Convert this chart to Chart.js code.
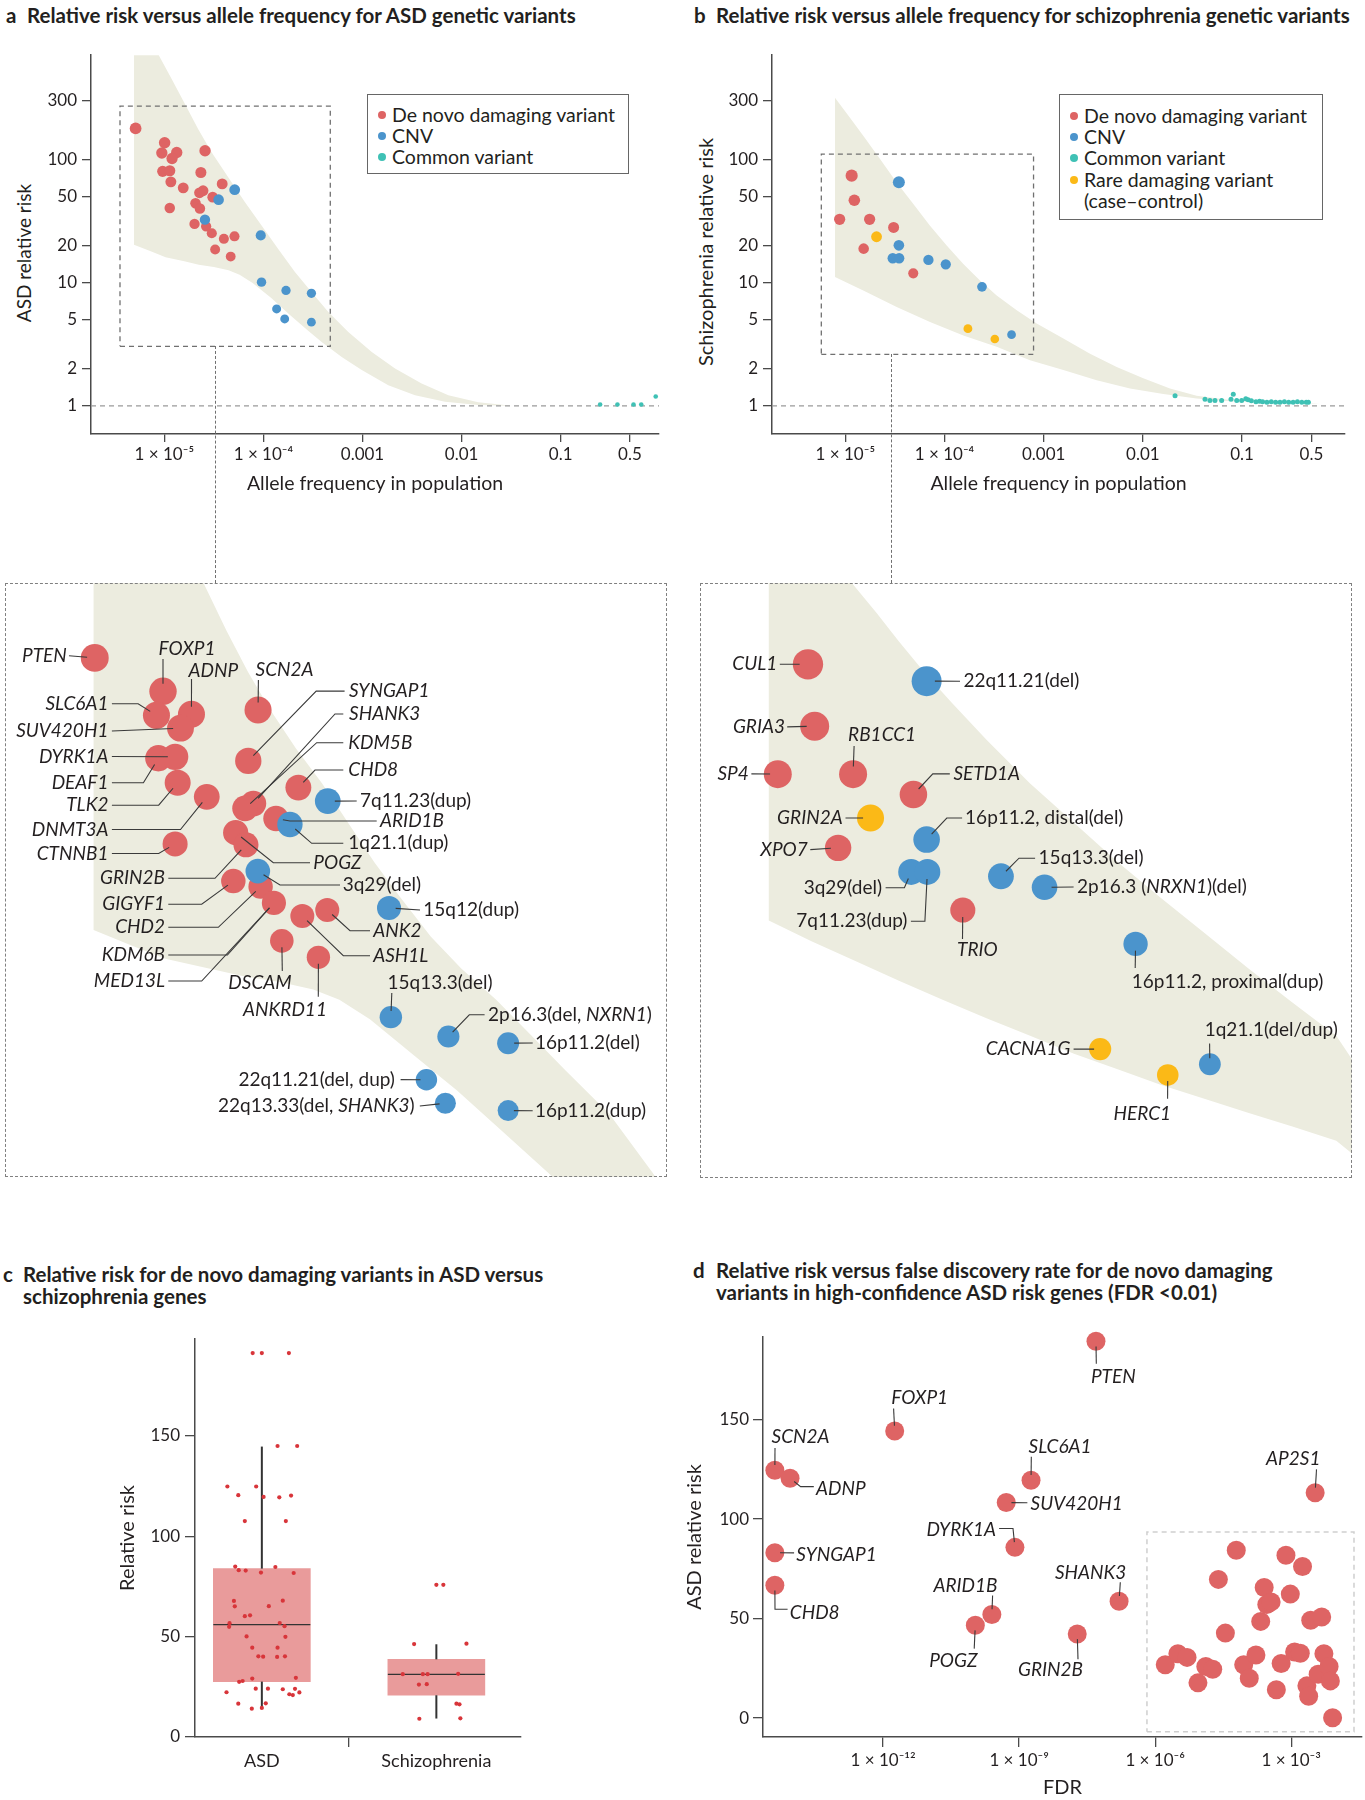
<!DOCTYPE html>
<html>
<head>
<meta charset="utf-8">
<script src="https://cdn.jsdelivr.net/npm/chart.js@4.4.1/dist/chart.umd.min.js"></script>
<style>
body { margin: 0; background: #fff; }
#page { position: relative; width: 1365px; height: 1800px; overflow: hidden; font-family: Lato, "Open Sans", sans-serif; color: #231f20; }
#page canvas { position: absolute; }
.ttl { position: absolute; font-weight: 700; font-size: 20.5px; line-height: 22px; white-space: nowrap; }
.ytl { position: absolute; white-space: nowrap; transform: translate(-50%, -50%) rotate(-90deg); line-height: 22px; }
.frame { position: absolute; border: 1.4px dashed #808080; box-sizing: border-box; pointer-events: none; }
.link { position: absolute; width: 0; border-left: 1.4px dashed #707070; }
.legend { position: absolute; border: 1.3px solid #666; box-sizing: border-box; background: #fff; font-size: 19.5px; }
.legend div { position: absolute; white-space: nowrap; line-height: 20px; }
.legend span { position: absolute; width: 8px; height: 8px; border-radius: 50%; }
</style>
</head>
<body>
<div id="page">
  <div class="ttl" style="left:6px;top:4px">a</div>
  <div class="ttl" style="left:27px;top:4px">Relative risk versus allele frequency for ASD genetic variants</div>
  <div class="ttl" style="left:694px;top:4px">b</div>
  <div class="ttl" style="left:716px;top:4px">Relative risk versus allele frequency for schizophrenia genetic variants</div>
  <div class="ttl" style="left:3px;top:1263px">c</div>
  <div class="ttl" style="left:23px;top:1263px">Relative risk for de novo damaging variants in ASD versus<br>schizophrenia genes</div>
  <div class="ttl" style="left:693px;top:1259px">d</div>
  <div class="ttl" style="left:716px;top:1259px">Relative risk versus false discovery rate for de novo damaging<br>variants in high-confidence ASD risk genes (FDR &lt;0.01)</div>
  <div class="ytl" style="left:24px;top:253px;font-size:19px">ASD relative risk</div>
  <div class="ytl" style="left:705px;top:252px;font-size:20px">Schizophrenia relative risk</div>
</div>
<script>
// colori
const RED = '#de6464', BLUE = '#4b94cc', TEAL = '#3fc1b5', GOLD = '#fbb917', BAND = '#ececdf';
const INK = '#231f20', AXIS = '#4a4a4a', BOXFILL = '#e99b9b', JIT = '#d8353a';

// ---- pannello a: ASD ----
const asdDnNames = ['PTEN','FOXP1','SLC6A1','ADNP','SUV420H1','SCN2A','DEAF1','DYRK1A','SYNGAP1','TLK2','CHD8','DNMT3A','SHANK3','KDM5B','ARID1B','POGZ','GRIN2B','CTNNB1','GIGYF1','CHD2','MED13L','ASH1L','ANK2','DSCAM','ANKRD11'];
const asdDnFreq = [5.13e-6,1.007e-5,9.44e-6,1.334e-5,1.197e-5,2.576e-5,9.62e-6,1.135e-5,2.339e-5,1.164e-5,3.837e-5,1.552e-5,2.46e-5,2.265e-5,3.076e-5,2.065e-5,2.286e-5,1.135e-5,2.018e-5,2.642e-5,3.013e-5,3.99e-5,5.105e-5,3.258e-5,4.677e-5];
const asdDnRR = [179,137,113,114,102,118,80.2,81.1,78.5,65.9,63.4,58.9,55.8,53.7,49.5,44.2,40.1,40.4,30.0,28.7,25.2,22.7,23.8,18.6,16.3];
const asdCnvNames = ['7q11.23(dup)','1q21.1(dup)','3q29(del)','15q12(dup)','15q13.3(del)','2p16.3(del, NXRN1)','16p11.2(del)','22q11.21(del, dup)','22q13.33(del, SHANK3)','16p11.2(dup)'];
const asdCnvFreq = [5.13e-5,3.53e-5,2.57e-5,9.4e-5,9.57e-5,1.69e-4,3.05e-4,1.36e-4,1.64e-4,3.05e-4];
const asdCnvRR = [56.9,47.2,32.5,24.2,10.1,8.65,8.2,6.12,5.07,4.78];
const asdCommonFreq = [0.25,0.374,0.543,0.65,0.91];
const asdCommonRR = [1.025,1.025,1.025,1.025,1.19];

// ---- pannello b: schizofrenia ----
const sczDnNames = ['CUL1','GRIA3','SP4','RB1CC1','SETD1A','XPO7','TRIO'];
const sczDnFreq = [1.159e-5,1.233e-5,8.77e-6,1.758e-5,3.069e-5,1.531e-5,4.842e-5];
const sczDnRR = [74.0,46.7,32.7,32.7,28.1,18.9,11.9];
const sczCnvNames = ['22q11.21(del)','16p11.2, distal(del)','3q29(del)','7q11.23(dup)','15q13.3(del)','2p16.3 (NRXN1)(del)','16p11.2, proximal(dup)','1q21.1(del/dup)'];
const sczCnvFreq = [3.467e-5,3.467e-5,3.006e-5,3.491e-5,6.887e-5,1.03e-4,2.388e-4,4.742e-4];
const sczCnvRR = [65.3,20.1,15.8,15.8,15.3,14.1,9.25,3.78];
const sczRareNames = ['GRIN2A','CACNA1G','HERC1'];
const sczRareFreq = [2.065e-5,1.722e-4,3.214e-4];
const sczRareRR = [23.6,4.23,3.49];
const sczCommonFreq = [0.0211,0.0423,0.0474,0.0533,0.0622,0.0773,0.0815,0.0883,0.099,0.109,0.115,0.124,0.138,0.150,0.161,0.178,0.197,0.218,0.241,0.267,0.295,0.327,0.361,0.400,0.443,0.466];
const sczCommonRR = [1.205,1.13,1.105,1.105,1.105,1.13,1.24,1.105,1.105,1.14,1.12,1.10,1.08,1.09,1.08,1.07,1.08,1.07,1.07,1.08,1.07,1.07,1.08,1.07,1.07,1.07];

// fasce (bordo superiore / inferiore)
const bandAUpF = [8.71e-6,1.19e-5,1.62e-5,2.20e-5,3.01e-5,4.43e-5,6.52e-5,9.62e-5,1.41e-4,2.08e-4,3.07e-4,4.52e-4,7.19e-4,1.24e-3,2.13e-3,3.95e-3,7.35e-3,1.47e-2,3.21e-2];
const bandAUpRR = [713,448,281,176,114,71.4,44.9,29.0,18.8,12.2,8.37,5.77,3.97,2.74,2.01,1.52,1.22,1.067,1.0];
const bandALoF = [4.94e-6,7.29e-6,1.03e-5,1.59e-5,2.23e-5,3.16e-5,4.45e-5,5.75e-5,7.78e-5,1.20e-4,1.84e-4,2.83e-4,3.87e-4,6.17e-4,9.82e-4,1.82e-3,3.39e-3,6.81e-3,1.47e-2,3.21e-2];
const bandALoRR = [20.3,18.0,16.1,14.9,14.0,13.4,12.6,11.6,9.93,7.50,5.50,4.07,3.30,2.49,1.95,1.47,1.22,1.076,1.014,1.0];
const bandBUpF = [7.87e-6,1.114e-5,1.517e-5,2.239e-5,3.296e-5,4.853e-5,7.145e-5,1.052e-4,1.549e-4,2.28e-4,3.357e-4,5.346e-4,8.49e-4,1.578e-3,2.931e-3,5.445e-3,1.009e-2,1.875e-2,3.483e-2,7.551e-2,0.304,0.61];
const bandBUpRR = [318,219,156,101,65.2,43.6,29.0,20.0,14.2,10.4,7.87,5.96,4.65,3.52,2.65,2.07,1.67,1.38,1.205,1.112,1.081,1.042];
const bandBLoF = [7.87e-6,1.517e-5,3.296e-5,7.145e-5,1.549e-4,3.357e-4,7.278e-4,1.578e-3,3.42e-3,7.413e-3,1.607e-2,3.483e-2,7.551e-2,0.304,0.61];
const bandBLoRR = [11.1,8.65,6.34,4.79,3.73,3.01,2.34,1.95,1.61,1.38,1.245,1.148,1.091,1.052,1.042];
// fasce come disegnate nei riquadri ingranditi
const insetAUpF = [1.318e-5,1.517e-5,1.884e-5,2.333e-5,2.891e-5,3.741e-5,4.853e-5,6.281e-5,8.128e-5,1.052e-4,1.422e-4,1.919e-4,2.71e-4,3.828e-4,5.395e-4,8.279e-4,1.274e-3,1.959e-3];
const insetAUpRR = [417,321,223,160,119,86.9,65.5,47.8,34.9,26.3,19.2,14.9,11.6,8.73,6.58,4.66,2.90,1.70];
const insetALoF = [5.07e-6,7.29e-6,1.03e-5,1.585e-5,2.234e-5,3.155e-5,4.446e-5,5.754e-5,7.78e-5,1.197e-4,1.841e-4,2.831e-4,4.742e-4,8.279e-4];
const insetALoRR = [20.3,18.0,16.1,14.9,14.0,13.4,12.6,11.6,9.93,7.46,5.62,4.10,2.81,1.87];
const insetBUpF = [1.466e-5,1.758e-5,2.193e-5,2.685e-5,3.42e-5,4.365e-5,6.026e-5,9.016e-5,1.352e-4,2.023e-4,3.027e-4,4.539e-4,6.792e-4,1.016e-3,1.524e-3,1.901e-3,2.239e-3];
const insetBUpRR = [173,134,108,87.7,69.3,55.7,42.2,30.5,22.8,17.0,13.0,10.0,7.69,5.98,4.67,3.58,2.82];
const insetBLoF = [8.07e-6,1.197e-5,1.795e-5,2.685e-5,4.018e-5,6.026e-5,9.016e-5,1.352e-4,2.023e-4,3.027e-4,4.539e-4,6.792e-4,1.016e-3,1.524e-3,1.901e-3,2.239e-3];
const insetBLoRR = [11.0,9.44,8.15,7.03,6.11,5.32,4.67,4.09,3.64,3.24,2.92,2.63,2.38,2.14,1.85,1.66];

// assi
const freqTicks = [1e-5,1e-4,1e-3,1e-2,0.1,0.5];
const freqTickLabels = ['1 \u00d7 10\u207b\u2075','1 \u00d7 10\u207b\u2074','0.001','0.01','0.1','0.5'];
const rrTicks = [1,2,5,10,20,50,100,300];
const zoomBoxAF = [3.57e-6,4.73e-4], zoomBoxARR = [3.04,272];
const zoomBoxBF = [5.73e-6,7.9e-4], zoomBoxBRR = [2.62,110.6];
const linkFreqA = 3.33e-5, linkFreqB = 2.94e-5;

// ---- pannello c ----
const boxCats = ['ASD','Schizophrenia'];
const boxQ1 = [27.6,20.8], boxQ3 = [83.9,38.7], boxMed = [56.0,31.2], boxLow = [14.2,9.2], boxHigh = [144.7,46.2];
const asdJitter = [-0.0525,0,0.155,0.09,0.2025,-0.1975,-0.0325,-0.135,0.01,0.1,0.1675,-0.0975,0.1375,-0.1525,-0.1325,-0.0925,0.0775,-0.005,0.1825,-0.16,-0.155,0.12,0.04,-0.0975,-0.0675,-0.185,-0.1875,0.1025,0.13,-0.0875,0.135,-0.055,0.09,-0.02,0.0075,0.0875,0.1325,0.195,-0.055,-0.13,-0.11,-0.035,0.035,0.12,0.19,-0.2025,0.215,0.1575,0.1775,-0.135,0.0225,-0.0575,0];
const asdRRc = [191.3,191.3,191.3,145,145,124.8,124.8,120.5,119.6,119.4,120.3,107.6,107.6,84.9,83.1,82.9,84.7,81.9,81.7,67.8,65.1,67.9,65.2,60.2,60.6,56.7,54.9,56.8,55.2,50.1,49.9,44.5,44.5,40.2,40.0,39.9,40.2,29.5,29.1,27.5,27.9,24.1,24.1,23.8,24.0,22.3,22.2,21.3,20.9,16.6,16.8,14.1,14.5];
const sczJitter = [0,0.04,-0.1275,0.1725,-0.1925,-0.0775,-0.05,0.125,-0.1,-0.055,0.115,0.1325,-0.0975,0.1375];
const sczRRc = [75.8,75.8,46.3,46.5,31.3,31.3,31.3,31.5,26.1,26.3,16.6,16.3,9.1,9.3];
const linTicksC = [0,50,100,150];

// ---- pannello d ----
const fdrNames = ['PTEN','FOXP1','SCN2A','ADNP','SLC6A1','SUV420H1','DYRK1A','SYNGAP1','CHD8','SHANK3','ARID1B','POGZ','GRIN2B','AP2S1'];
const fdrVal = [4.95e-8,1.80e-12,4.09e-15,8.85e-15,1.83e-9,5.19e-10,8.07e-10,4.09e-15,4.09e-15,1.60e-7,2.50e-10,1.08e-10,1.91e-8,3.38e-3,
  1.67e-6,3.17e-6,5.05e-6,8.79e-6,1.31e-5,1.86e-5,2.48e-5,3.54e-5,6.15e-5,8.97e-5,1.19e-4,1.67e-4,2.13e-4,2.54e-4,2.90e-4,3.61e-4,4.71e-4,6.01e-4,7.67e-4,9.57e-4,1.19e-3,1.59e-3,1.78e-3,2.22e-3,2.43e-3,2.70e-3,3.94e-3,4.71e-3,5.27e-3,6.86e-3,7.33e-3,8.20e-3];
const fdrRR = [189.4,144.3,124.5,120.5,119.5,108.3,85.8,83.1,66.8,58.7,52.1,46.7,42.3,113.2,
  26.8,32.3,30.5,17.7,25.9,24.5,69.7,42.7,84.3,26.8,20.0,31.7,48.6,65.6,57.1,58.4,14.2,27.4,81.8,62.3,33.2,32.6,76.2,16.2,11.0,49.2,22.0,50.8,32.3,25.9,18.7,0.2];
const fdrTicks = [1e-12,1e-9,1e-6,1e-3];
const fdrTickLabels = ['1 \u00d7 10\u207b\u00b9\u00b2','1 \u00d7 10\u207b\u2079','1 \u00d7 10\u207b\u2076','1 \u00d7 10\u207b\u00b3'];
const fdrBoxF = [6.59e-7,2.43e-2], fdrBoxRR = [-6.8,93.5];

// etichette con linee guida (coordinate di pagina)
const labelsA = [
  {n:'PTEN', x:66.8, y:655.7, a:'right', p:[[69,655.7]]},
  {n:'FOXP1', x:187, y:648.7, a:'center', p:[[163,659]]},
  {n:'ADNP', x:213.4, y:670.7, a:'center', p:[[191.5,679]]},
  {n:'SCN2A', x:284.6, y:669.5, a:'center', p:[[258.4,680]]},
  {n:'SLC6A1', x:108.4, y:703.5, a:'right', p:[[111.9,703.7],[138.1,703.7]]},
  {n:'SUV420H1', x:108.4, y:731, a:'right', p:[[111.9,731]]},
  {n:'DYRK1A', x:108.4, y:756.5, a:'right', p:[[111.9,756.5]]},
  {n:'DEAF1', x:108.4, y:782.8, a:'right', p:[[111.9,782.8],[143.4,782.8]]},
  {n:'TLK2', x:108.4, y:805.2, a:'right', p:[[111.9,805.2],[158.7,805.2]]},
  {n:'DNMT3A', x:108.4, y:829.5, a:'right', p:[[111.9,829.5],[180.5,829.5]]},
  {n:'CTNNB1', x:108.4, y:853.5, a:'right', p:[[111.9,853.5],[158.7,853.5]]},
  {n:'GRIN2B', x:165, y:878.3, a:'right', p:[[168.3,878.3],[215,878.3]]},
  {n:'GIGYF1', x:165, y:904.3, a:'right', p:[[168.3,904.3],[201.7,904.3]]},
  {n:'CHD2', x:165, y:927.3, a:'right', p:[[168.3,927.3],[218.3,927.3]]},
  {n:'MED13L', t:'*KDM6B*', x:165, y:955, a:'right', p:[[168.3,955],[227.4,955]]},
  {n:'MED13L', x:165, y:981, a:'right', p:[[168.3,981],[201.7,981]]},
  {n:'DSCAM', x:260, y:983.3, a:'center', p:[[282.3,971]]},
  {n:'ANKRD11', x:285, y:1010, a:'center', p:[[318.3,996.7]]},
  {n:'SYNGAP1', x:349, y:691.1, a:'left', p:[[344.6,691.1],[316.2,691.1]]},
  {n:'SHANK3', x:349, y:714, a:'left', p:[[343.3,714],[335,714]]},
  {n:'KDM5B', x:348.3, y:742.7, a:'left', p:[[343.3,742.7],[316.7,742.7]]},
  {n:'CHD8', x:348.3, y:770, a:'left', p:[[343.3,770],[315,770]]},
  {n:'7q11.23(dup)', t:'7q11.23(dup)', x:360, y:801, a:'left', p:[[356.7,801]]},
  {n:'ARID1B', x:380, y:821, a:'left', p:[[376.7,821],[290,821]]},
  {n:'1q21.1(dup)', t:'1q21.1(dup)', x:348.3, y:843.3, a:'left', p:[[343.3,843.3],[311.7,843.3]]},
  {n:'POGZ', x:313.3, y:862.7, a:'left', p:[[310,862.7],[273.3,862.7]]},
  {n:'3q29(del)', t:'3q29(del)', x:342.7, y:885, a:'left', p:[[340,885],[280,885]]},
  {n:'15q12(dup)', t:'15q12(dup)', x:423.3, y:910, a:'left', p:[[420,910]]},
  {n:'ANK2', x:373.3, y:930.7, a:'left', p:[[370,930.7],[350,930.7]]},
  {n:'ASH1L', x:373.3, y:955.7, a:'left', p:[[370,955.7],[343.3,955.7]]},
  {n:'15q13.3(del)', t:'15q13.3(del)', x:387.5, y:983.3, a:'left', p:[[391.8,993]]},
  {n:'2p16.3(del, NXRN1)', t:'2p16.3(del, *NXRN1*)', x:488, y:1014.8, a:'left', p:[[484.6,1014.8],[469.3,1014.8]]},
  {n:'16p11.2(del)', t:'16p11.2(del)', x:534.9, y:1043.1, a:'left', p:[[532.7,1043]]},
  {n:'22q11.21(del, dup)', t:'22q11.21(del, dup)', x:394.9, y:1079.6, a:'right', p:[[400.6,1079.6]]},
  {n:'22q13.33(del, SHANK3)', t:'22q13.33(del, *SHANK3*)', x:414.6, y:1106, a:'right', p:[[419.8,1106]]},
  {n:'16p11.2(dup)', t:'16p11.2(dup)', x:534.9, y:1110.7, a:'left', p:[[532.7,1110.7]]}
];
const labelsB = [
  {n:'CUL1', x:777.2, y:664.2, a:'right', p:[[779.8,664.2]]},
  {n:'GRIA3', x:785, y:726.9, a:'right', p:[[787.2,726.9]]},
  {n:'SP4', x:748.8, y:773.9, a:'right', p:[[751.4,773.9]]},
  {n:'RB1CC1', x:882.1, y:735.2, a:'center', p:[[854.1,745.9]]},
  {n:'SETD1A', x:953.4, y:773.9, a:'left', p:[[949.8,773.9],[932.8,773.9]]},
  {n:'GRIN2A', x:842.7, y:818, a:'right', p:[[845.5,818]]},
  {n:'XPO7', x:807.8, y:849.6, a:'right', p:[[810.3,849.6]]},
  {n:'TRIO', x:977.4, y:949.7, a:'center', p:[[962.5,939]]},
  {n:'22q11.21(del)', t:'22q11.21(del)', x:963.4, y:681.2, a:'left', p:[[960,681.2]]},
  {n:'16p11.2, distal(del)', t:'16p11.2, distal(del)', x:965.1, y:818, a:'left', p:[[962.1,818],[946.8,818]]},
  {n:'15q13.3(del)', t:'15q13.3(del)', x:1038.6, y:858.2, a:'left', p:[[1035.1,858.2],[1019,858.2]]},
  {n:'2p16.3 (NRXN1)(del)', t:'2p16.3 (*NRXN1*)(del)', x:1077.1, y:887, a:'left', p:[[1073.6,887]]},
  {n:'3q29(del)', t:'3q29(del)', x:882.1, y:887.8, a:'right', p:[[885.6,887.8],[904.4,887.8]]},
  {n:'7q11.23(dup)', t:'7q11.23(dup)', x:907.4, y:921.3, a:'right', p:[[910.9,921.3],[924.9,921.3]]},
  {n:'16p11.2, proximal(dup)', t:'16p11.2, proximal(dup)', x:1131.8, y:982, a:'left', p:[[1135.2,968]]},
  {n:'CACNA1G', x:1070.5, y:1049.1, a:'right', p:[[1073.6,1049.1]]},
  {n:'1q21.1(del/dup)', t:'1q21.1(del/dup)', x:1204.7, y:1029.8, a:'left', p:[[1209.6,1043.6]]},
  {n:'HERC1', x:1142.3, y:1113.4, a:'center', p:[[1167.6,1098.8]]}
];
const labelsD = [
  {n:'PTEN', x:1113.3, y:1377.3, a:'center', p:[[1096.3,1363.7]]},
  {n:'FOXP1', x:919.7, y:1397.7, a:'center', p:[[893.6,1408.5]]},
  {n:'SCN2A', x:800.6, y:1437.1, a:'center', p:[[775,1447.9]]},
  {n:'ADNP', x:816, y:1489.1, a:'left', p:[[813.8,1486.6],[800.6,1486.6]]},
  {n:'SLC6A1', x:1060.1, y:1446.8, a:'center', p:[[1031.3,1456.8]]},
  {n:'SUV420H1', x:1030.5, y:1503.4, a:'left', p:[[1027.4,1502.7]]},
  {n:'DYRK1A', x:996, y:1530.3, a:'right', p:[[999.1,1528.5],[1013,1528.5]]},
  {n:'SYNGAP1', x:796.3, y:1554.7, a:'left', p:[[794.1,1552.9]]},
  {n:'CHD8', x:789.8, y:1612.8, a:'left', p:[[787.6,1609.2],[775,1609.2]]},
  {n:'SHANK3', x:1090.6, y:1572.6, a:'center', p:[[1120.3,1582.3]]},
  {n:'ARID1B', x:965.5, y:1585.9, a:'center', p:[[992.6,1595.5]]},
  {n:'POGZ', x:953.3, y:1661.1, a:'center', p:[[974.2,1648.6]]},
  {n:'GRIN2B', x:1050.5, y:1670.1, a:'center', p:[[1078,1659.3]]},
  {n:'AP2S1', x:1293.3, y:1458.6, a:'center', p:[[1316.5,1469.4]]}
];

Chart.defaults.font.family = 'Lato, "Open Sans", sans-serif';
Chart.defaults.color = INK;
Chart.defaults.animation = false;
Chart.defaults.events = [];
Chart.defaults.plugins.legend.display = false;
Chart.defaults.plugins.tooltip.enabled = false;

const page = document.getElementById('page');
function mkCanvas(left, top, w, h) {
  const c = document.createElement('canvas');
  c.width = w; c.height = h;
  c.style.left = left + 'px'; c.style.top = top + 'px';
  c.style.width = w + 'px'; c.style.height = h + 'px';
  page.appendChild(c);
  return c;
}
function mkDiv(cls, css) {
  const d = document.createElement('div');
  d.className = cls;
  Object.assign(d.style, css);
  page.appendChild(d);
  return d;
}

const pts = (xs, ys) => xs.map((x, i) => ({x: x, y: ys[i]}));
function dots(names, xs, ys, color, radius, order) {
  return {names: names, data: pts(xs, ys), backgroundColor: color, borderWidth: 0,
    pointRadius: radius, order: order, showLine: false, clip: false};
}
function band(upF, upRR, loF, loRR) {
  const poly = [{x: loF[0], y: upRR[0]}].concat(pts(upF, upRR), pts(loF, loRR).reverse());
  return {data: poly, showLine: true, fill: 'shape', backgroundColor: BAND,
    borderColor: 'rgba(0,0,0,0)', borderWidth: 1, pointRadius: 0, order: 10};
}
function dashed(xs, ys, color, order) {
  return {data: pts(xs, ys), showLine: true, borderColor: color, borderWidth: 1.3,
    borderDash: [5, 4], pointRadius: 0, fill: false, order: order};
}
const rect = (f, r) => [[f[0], f[1], f[1], f[0], f[0]], [r[0], r[0], r[1], r[1], r[0]]];
const sizeA = k => c => c.raw ? k * (9 + 2.2 * Math.log10(c.raw.y)) : 0;
const sizeB = k => c => c.raw ? k * (9 + 3.3 * Math.log10(c.raw.y)) : 0;

// testo con parti in corsivo tra asterischi
function drawRich(ctx, text, x, y, align, size) {
  const parts = text.split('*');
  const fam = Chart.defaults.font.family;
  const fonts = parts.map((s, i) => (i % 2 ? 'italic ' : '') + size + 'px ' + fam);
  let w = 0;
  const ws = parts.map((s, i) => { ctx.font = fonts[i]; const m = ctx.measureText(s).width; w += m; return m; });
  let cx = align === 'right' ? x - w : align === 'center' ? x - w / 2 : x;
  ctx.textBaseline = 'middle'; ctx.textAlign = 'left'; ctx.fillStyle = INK;
  parts.forEach((s, i) => { ctx.font = fonts[i]; ctx.fillText(s, cx, y); cx += ws[i]; });
}

const leaderPlugin = {
  id: 'leaders',
  afterDatasetsDraw(chart, args, o) {
    if (!o || !o.items) return;
    const ctx = chart.ctx;
    const lookup = {};
    chart.data.datasets.forEach((ds, i) => {
      if (!ds.names) return;
      const meta = chart.getDatasetMeta(i);
      ds.names.forEach((n, j) => { if (n) lookup[n] = meta.data[j]; });
    });
    ctx.save();
    ctx.strokeStyle = '#3a3a3a'; ctx.lineWidth = 1.1;
    o.items.forEach(it => {
      const line = it.p.map(q => [q[0] - o.ox, q[1] - o.oy]);
      const el = lookup[it.n];
      if (el) {
        const last = line[line.length - 1];
        const dx = el.x - last[0], dy = el.y - last[1], d = Math.hypot(dx, dy);
        const r = el.options.radius * 0.55;
        const k = d > r ? (d - r) / d : 0;
        line.push([last[0] + dx * k, last[1] + dy * k]);
      }
      ctx.beginPath();
      line.forEach((q, i) => i ? ctx.lineTo(q[0], q[1]) : ctx.moveTo(q[0], q[1]));
      ctx.stroke();
      drawRich(ctx, it.t || ('*' + it.n + '*'), it.x - o.ox, it.y - o.oy, it.a, o.size);
    });
    ctx.restore();
  }
};

function axisStyle(len) {
  return {
    grid: {drawOnChartArea: false, drawTicks: true, tickLength: len, color: AXIS, lineWidth: 1.3},
    border: {display: true, color: AXIS, width: 1.5}
  };
}

// grafico principale allele frequency / relative risk
function mainChart(left, cw, areaL, areaR, xMin, xMax, datasets) {
  const top = 40, h = 470, areaT = 54, areaB = 434;
  const c = mkCanvas(left, top, cw, h);
  return new Chart(c, {
    type: 'scatter',
    data: {datasets: datasets},
    options: {
      responsive: false,
      layout: {autoPadding: false, padding: {top: areaT - top, right: left + cw - areaR, left: 0, bottom: 0}},
      scales: {
        x: Object.assign({
          type: 'logarithmic', min: xMin, max: xMax,
          afterBuildTicks: s => { s.ticks = freqTicks.map(v => ({value: v})); },
          afterFit: s => { s.height = top + h - areaB; },
          ticks: {callback: (v, i) => freqTickLabels[i], font: {size: 17}, color: INK, padding: 2, maxRotation: 0, autoSkip: false},
          title: {display: true, text: 'Allele frequency in population', font: {size: 19.5}, color: INK, padding: {bottom: 15}}
        }, axisStyle(8)),
        y: Object.assign({
          type: 'logarithmic', min: 0.59, max: 704,
          afterBuildTicks: s => { s.ticks = rrTicks.map(v => ({value: v})); },
          afterFit: s => { s.width = areaL - left; },
          ticks: {callback: (v, i) => String(rrTicks[i]), font: {size: 17}, color: INK, padding: 5, autoSkip: false}
        }, axisStyle(9))
      }
    }
  });
}

// ---- a ----
const boxA = rect(zoomBoxAF, zoomBoxARR);
const chartA = mainChart(0, 682, 91, 659, 1.82e-6, 0.982, [
  dots(asdCnvNames, asdCnvFreq, asdCnvRR, BLUE, sizeA(0.42), 1),
  dots(null, asdCommonFreq, asdCommonRR, TEAL, 2.3, 1),
  dots(asdDnNames, asdDnFreq, asdDnRR, RED, sizeA(0.42), 2),
  dashed(boxA[0], boxA[1], '#707070', 8),
  dashed([1.82e-6, 0.982], [1, 1], '#9a9a9a', 9),
  band(bandAUpF, bandAUpRR, bandALoF, bandALoRR)
]);

// ---- b ----
const boxB = rect(zoomBoxBF, zoomBoxBRR);
const chartB = mainChart(682, 683, 772, 1345, 1.824e-6, 1.09, [
  dots(sczRareNames, sczRareFreq, sczRareRR, GOLD, sizeB(0.4), 1),
  dots(sczCnvNames, sczCnvFreq, sczCnvRR, BLUE, sizeB(0.4), 1),
  dots(null, sczCommonFreq, sczCommonRR, TEAL, 2.5, 1),
  dots(sczDnNames, sczDnFreq, sczDnRR, RED, sizeB(0.4), 2),
  dashed(boxB[0], boxB[1], '#707070', 8),
  dashed([1.824e-6, 1.09], [1, 1], '#9a9a9a', 9),
  band(bandBUpF, bandBUpRR, bandBLoF, bandBLoRR)
]);

// legende
function legend(left, top, w, h, rows) {
  const box = mkDiv('legend', {left: left + 'px', top: top + 'px', width: w + 'px', height: h + 'px'});
  rows.forEach(r => {
    const t = document.createElement('div');
    t.textContent = r[0];
    t.style.left = '24px'; t.style.top = (r[2] - 10) + 'px';
    box.appendChild(t);
    if (r[1]) {
      const s = document.createElement('span');
      s.style.background = r[1]; s.style.left = '10px'; s.style.top = (r[2] - 4) + 'px';
      box.appendChild(s);
    }
  });
}
legend(367, 94, 262, 80, [['De novo damaging variant', RED, 20], ['CNV', BLUE, 41], ['Common variant', TEAL, 62]]);
legend(1059, 94, 264, 126, [['De novo damaging variant', RED, 21], ['CNV', BLUE, 42], ['Common variant', TEAL, 63],
  ['Rare damaging variant', GOLD, 85], ['(case\u2013control)', null, 106]]);

// collegamenti tratteggiati verso i riquadri
function link(chart, left, f, rr) {
  const x = left + chart.scales.x.getPixelForValue(f);
  const y = 40 + chart.scales.y.getPixelForValue(rr);
  mkDiv('link', {left: (x - 0.7) + 'px', top: y + 'px', height: (583 - y) + 'px'});
}
link(chartA, 0, linkFreqA, zoomBoxARR[0]);
link(chartB, 682, linkFreqB, zoomBoxBRR[0]);

// riquadri ingranditi
function insetChart(left, top, w, h, fr, rr, datasets, items) {
  const c = mkCanvas(left, top, w, h);
  mkDiv('frame', {left: left + 'px', top: top + 'px', width: w + 'px', height: h + 'px'});
  return new Chart(c, {
    type: 'scatter',
    data: {datasets: datasets},
    options: {
      responsive: false,
      layout: {autoPadding: false, padding: 0},
      scales: {
        x: {type: 'logarithmic', display: false, min: fr[0], max: fr[1]},
        y: {type: 'logarithmic', display: false, min: rr[0], max: rr[1]}
      },
      plugins: {leaders: {items: items, ox: left, oy: top, size: 19}}
    },
    plugins: [leaderPlugin]
  });
}
insetChart(5, 583, 662, 594, [2.113e-6, 1.466e-3], [2.81, 326], [
  dots(asdCnvNames, asdCnvFreq, asdCnvRR, BLUE, sizeA(1), 1),
  dots(asdDnNames, asdDnFreq, asdDnRR, RED, sizeA(1), 2),
  band(insetAUpF, insetAUpRR, insetALoF, insetALoRR)
], labelsA);
insetChart(700, 583, 652, 595, [4.276e-6, 1.762e-3], [1.622, 135.5], [
  dots(sczRareNames, sczRareFreq, sczRareRR, GOLD, sizeB(1), 1),
  dots(sczCnvNames, sczCnvFreq, sczCnvRR, BLUE, sizeB(1), 1),
  dots(sczDnNames, sczDnFreq, sczDnRR, RED, sizeB(1), 2),
  band(insetBUpF, insetBUpRR, insetBLoF, insetBLoRR)
], labelsB);

// ---- c: box plot ----
const boxPlugin = {
  id: 'boxes',
  afterDatasetDraw(chart, args) {
    if (args.meta.type !== 'bar') return;
    const y = chart.scales.y, ctx = chart.ctx;
    const seg = (x0, y0, x1, y1) => { ctx.beginPath(); ctx.moveTo(x0, y0); ctx.lineTo(x1, y1); ctx.stroke(); };
    ctx.save(); ctx.strokeStyle = '#333';
    args.meta.data.forEach((bar, i) => {
      const half = bar.width / 2;
      ctx.lineWidth = 1.2;
      seg(bar.x - half, y.getPixelForValue(boxMed[i]), bar.x + half, y.getPixelForValue(boxMed[i]));
      ctx.lineWidth = 2;
      seg(bar.x, y.getPixelForValue(boxHigh[i]), bar.x, y.getPixelForValue(boxQ3[i]));
      seg(bar.x, y.getPixelForValue(boxQ1[i]), bar.x, y.getPixelForValue(boxLow[i]));
    });
    ctx.restore();
  }
};
const jitterPts = asdJitter.map((j, i) => ({x: j, y: asdRRc[i]}))
  .concat(sczJitter.map((j, i) => ({x: 1 + j, y: sczRRc[i]})));
new Chart(mkCanvas(90, 1320, 460, 480), {
  type: 'bar',
  data: {datasets: [
    {type: 'scatter', data: jitterPts, backgroundColor: JIT, borderWidth: 0, pointRadius: 2.1, order: 0, clip: false},
    {type: 'bar', data: boxCats.map((c, i) => ({x: i, y: [boxQ1[i], boxQ3[i]]})), backgroundColor: BOXFILL,
      barThickness: 97, borderWidth: 0, order: 1}
  ]},
  options: {
    responsive: false,
    layout: {autoPadding: false, padding: {top: 19, right: 29, left: 0, bottom: 0}},
    scales: {
      x: Object.assign({
        type: 'linear', min: -0.383, max: 1.485, offset: false,
        afterBuildTicks: s => { s.ticks = boxCats.map((c, i) => ({value: i})); },
        afterFit: s => { s.height = 63; },
        ticks: {callback: (v, i) => boxCats[i], font: {size: 18}, color: INK, padding: 3, maxRotation: 0, autoSkip: false}
      }, axisStyle(10)),
      y: Object.assign({
        type: 'linear', min: 0, max: 198.3,
        afterBuildTicks: s => { s.ticks = linTicksC.map(v => ({value: v})); },
        afterFit: s => { s.width = 105; },
        ticks: {font: {size: 17}, color: INK, padding: 5},
        title: {display: true, text: 'Relative risk', font: {size: 20}, color: INK, padding: {top: 26}}
      }, axisStyle(10))
    }
  },
  plugins: [boxPlugin]
});

// ---- d ----
const fdrBox = rect(fdrBoxF, fdrBoxRR);
new Chart(mkCanvas(680, 1320, 685, 480), {
  type: 'scatter',
  data: {datasets: [
    dots(fdrNames, fdrVal, fdrRR, RED, 9.5, 1),
    Object.assign(dashed(fdrBox[0], fdrBox[1], '#cfcfcf', 5), {borderWidth: 1.5})
  ]},
  options: {
    responsive: false,
    layout: {autoPadding: false, padding: {top: 17, right: 3, left: 0, bottom: 0}},
    scales: {
      x: Object.assign({
        type: 'logarithmic', min: 2.24e-15, max: 0.0365,
        afterBuildTicks: s => { s.ticks = fdrTicks.map(v => ({value: v})); },
        afterFit: s => { s.height = 63; },
        ticks: {callback: (v, i) => fdrTickLabels[i], font: {size: 17}, color: INK, padding: 3, maxRotation: 0, autoSkip: false},
        title: {display: true, text: 'FDR', font: {size: 20}, color: INK, padding: {bottom: 0}}
      }, axisStyle(10)),
      y: Object.assign({
        type: 'linear', min: -9.5, max: 191.5,
        afterBuildTicks: s => { s.ticks = linTicksC.map(v => ({value: v})); },
        afterFit: s => { s.width = 83; },
        ticks: {font: {size: 17}, color: INK, padding: 4},
        title: {display: true, text: 'ASD relative risk', font: {size: 20}, color: INK, padding: {top: 3}}
      }, axisStyle(10))
    },
    plugins: {leaders: {items: labelsD, ox: 680, oy: 1320, size: 19}}
  },
  plugins: [leaderPlugin]
});
</script>
</body>
</html>
